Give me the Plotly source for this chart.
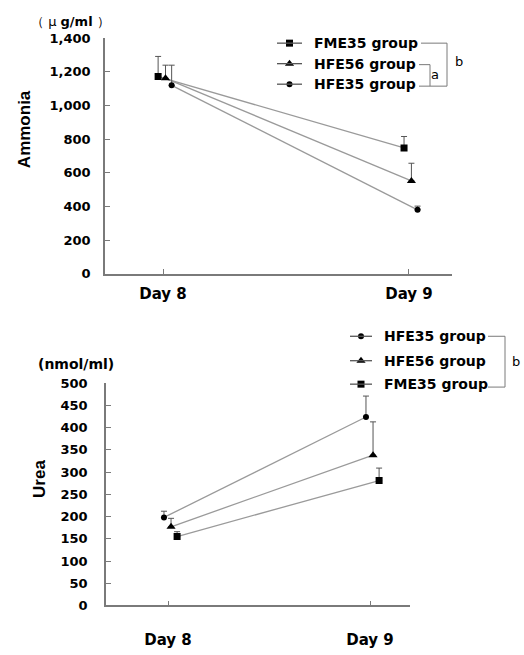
import plotly.graph_objects as go

# ---------------- data ----------------
days = [8, 9]
day_labels = ["Day 8", "Day 9"]

amm_groups = ["FME35 group", "HFE56 group", "HFE35 group"]
amm_FME35 = [1172, 748]
amm_HFE56 = [1162, 552]
amm_HFE35 = [1120, 380]
amm_FME35_err = [120, 68]
amm_HFE56_err = [78, 105]
amm_HFE35_err = [120, 22]
amm_ticks = [0, 200, 400, 600, 800, 1000, 1200, 1400]

urea_groups = ["HFE35 group", "HFE56 group", "FME35 group"]
urea_HFE35 = [198, 424]
urea_HFE56 = [177, 338]
urea_FME35 = [155, 281]
urea_HFE35_err = [14, 47]
urea_HFE56_err = [19, 75]
urea_FME35_err = [11, 28]
urea_ticks = [0, 50, 100, 150, 200, 250, 300, 350, 400, 450, 500]

W, H = 524, 655
BOLD = "DejaVu Sans"
LINE = "#9a9a9a"
AX = "#7a7a7a"

symbols = {"FME35 group": "square", "HFE56 group": "triangle-up", "HFE35 group": "circle"}
msize = {"square": 7, "triangle-up": 8, "circle": 6}

fig = go.Figure()

def add_series(xref, yref, y, err, sym, off):
    fig.add_trace(go.Scatter(
        x=[d + off for d in days], y=y, mode="lines+markers",
        line=dict(color=LINE, width=1.3),
        marker=dict(symbol=sym, size=msize[sym], color="black"),
        error_y=dict(type="data", array=err, arrayminus=[0, 0], symmetric=False,
                     color="#555555", thickness=1, width=3),
        xaxis=xref, yaxis=yref, showlegend=False, hoverinfo="skip"))

# top chart
add_series("x", "y", amm_FME35, amm_FME35_err, "square", -0.02)
add_series("x", "y", amm_HFE56, amm_HFE56_err, "triangle-up", 0.01)
add_series("x", "y", amm_HFE35, amm_HFE35_err, "circle", 0.035)
# bottom chart
add_series("x2", "y2", urea_HFE35, urea_HFE35_err, "circle", -0.02)
add_series("x2", "y2", urea_HFE56, urea_HFE56_err, "triangle-up", 0.015)
add_series("x2", "y2", urea_FME35, urea_FME35_err, "square", 0.045)

# legend keys (overlay pixel axis)
def legend(groups, x0, x1, rows, tx):
    for g, ry in zip(groups, rows):
        fig.add_shape(type="line", xref="x3", yref="y3", x0=x0, x1=x1, y0=ry, y1=ry,
                      line=dict(color="#555555", width=1.3))
        fig.add_trace(go.Scatter(x=[(x0 + x1) / 2], y=[ry], mode="markers",
                                 marker=dict(symbol=symbols[g], size=msize[symbols[g]], color="black"),
                                 xaxis="x3", yaxis="y3", showlegend=False, hoverinfo="skip"))
        fig.add_annotation(x=tx, y=ry, xref="x3", yref="y3", text="<b>%s</b>" % g,
                           showarrow=False, xanchor="left", yanchor="middle",
                           font=dict(family=BOLD, size=14, color="black"))

legend(amm_groups, 277, 302, [37, 58, 79], 312)
legend(urea_groups, 350, 372, [337, 362, 386], 382)

def seg(x0, y0, x1, y1):
    fig.add_shape(type="line", xref="x3", yref="y3", x0=x0, y0=y0, x1=x1, y1=y1,
                  line=dict(color=AX, width=1))

# top brackets
seg(421, 37, 447, 37); seg(447, 37, 447, 81); seg(419, 81, 447, 81)
seg(419, 59, 430, 59); seg(430, 59, 430, 81)
# bottom bracket
seg(488, 337, 505, 337); seg(505, 337, 505, 389); seg(488, 389, 505, 389)

def txt(x, y, s, size, fam=BOLD, angle=0):
    fig.add_annotation(x=x, y=y, xref="x3", yref="y3", text=s, showarrow=False,
                       textangle=angle, xanchor="center", yanchor="middle",
                       font=dict(family=fam, size=size, color="black"))

txt(435, 69, "a", 13)
txt(459, 56, "b", 13)
txt(516, 363, "b", 13)
txt(70, 15, "（ μ <b>g/ml</b> ）", 13)
txt(76, 365, "<b>(nmol/ml)</b>", 14)
txt(24, 125, "<b>Ammonia</b>", 17, "Liberation Sans", -90)
txt(40, 483, "<b>Urea</b>", 17, "Liberation Sans", -90)

def px(v):
    return v / W

def py(v):
    return 1 - v / H

common_y = dict(showline=True, linecolor=AX, linewidth=1.5, ticks="inside", ticklen=5,
                tickcolor=AX, showgrid=False, zeroline=False,
                tickfont=dict(family=BOLD, size=13, color="black", weight="bold"))
common_x = dict(showline=True, linecolor=AX, linewidth=1.5, ticks="inside", ticklen=5,
                tickcolor=AX, showgrid=False, zeroline=False, tickvals=days, ticktext=day_labels,
                tickfont=dict(family=BOLD, size=15, color="black", weight="bold"))

fig.update_layout(
    width=W, height=H, autosize=False,
    margin=dict(l=0, r=0, t=0, b=0),
    paper_bgcolor="white", plot_bgcolor="rgba(0,0,0,0)",
    xaxis=dict(common_x, domain=[px(105), px(452)], range=[7.764, 9.175], anchor="y",
               ticklabelstandoff=6),
    yaxis=dict(common_y, domain=[py(273), py(32)], range=[0, 1400], tickvals=amm_ticks,
               tickformat=",", anchor="x", ticklabelstandoff=10),
    xaxis2=dict(common_x, domain=[px(106), px(410)], range=[7.693, 9.198], anchor="y2",
                ticklabelstandoff=20),
    yaxis2=dict(common_y, domain=[py(612.5), py(385)], range=[0, 500], tickvals=urea_ticks,
                anchor="x2", ticklabelstandoff=14),
    xaxis3=dict(domain=[0, 1], range=[0, W], visible=False, anchor="y3", fixedrange=True),
    yaxis3=dict(domain=[0, 1], range=[H, 0], visible=False, anchor="x3", fixedrange=True),
)

post = ("var d=document.getElementById('{plot_id}');"
        "d.style.position='fixed';d.style.top='0';d.style.left='0';"
        "document.body.style.margin='0';document.body.style.overflow='hidden';"
        "document.documentElement.style.overflow='hidden';")
fig.write_html("out.html", config={"displayModeBar": False}, post_script=post)
